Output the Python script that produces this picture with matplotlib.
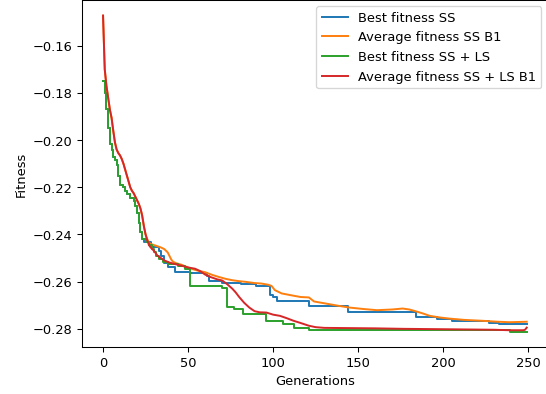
import matplotlib
matplotlib.use("Agg")
import matplotlib.pyplot as plt

# Best fitness SS + LS (step changes: generation, value)
gen_best_ls = [0, 1, 2, 3, 4, 5, 6, 7, 8, 9, 10, 12, 13, 14, 16, 18, 19, 20, 21, 22,
               23, 25, 27, 29, 30, 31, 33, 35, 38, 44, 48, 51, 70, 73, 77, 82, 96,
               106, 112, 121, 239, 249]
best_ls = [-0.1750, -0.1800, -0.1870, -0.1950, -0.2015, -0.2040, -0.2070, -0.2085,
           -0.2105, -0.2150, -0.2190, -0.2200, -0.2215, -0.2230, -0.2245, -0.2260,
           -0.2280, -0.2310, -0.2350, -0.2390, -0.2420, -0.2430, -0.2445, -0.2460,
           -0.2475, -0.2490, -0.2505, -0.2515, -0.2525, -0.2535, -0.2548, -0.2618,
           -0.2628, -0.2707, -0.2717, -0.2738, -0.2766, -0.2778, -0.2797, -0.2806,
           -0.2812, -0.2812]

# Best fitness SS (step changes)
gen_best_ss = [0, 1, 2, 3, 4, 5, 6, 7, 8, 9, 10, 12, 13, 14, 16, 18, 19, 20, 21, 22,
               23, 24, 28, 33, 34, 36, 38, 42, 51, 61, 62, 70, 81, 90, 98, 100, 102,
               121, 144, 184, 196, 205, 227, 233, 249]
best_ss = [-0.1750, -0.1800, -0.1870, -0.1950, -0.2015, -0.2040, -0.2070, -0.2085,
           -0.2105, -0.2150, -0.2190, -0.2200, -0.2215, -0.2230, -0.2245, -0.2260,
           -0.2280, -0.2310, -0.2350, -0.2390, -0.2420, -0.2434, -0.2455, -0.2469,
           -0.2490, -0.2520, -0.2540, -0.2561, -0.2565, -0.2575, -0.2597, -0.2604,
           -0.2611, -0.2618, -0.2657, -0.2667, -0.2681, -0.2705, -0.2728, -0.2752,
           -0.2759, -0.2766, -0.2776, -0.2780, -0.2780]

# Average fitness SS + LS B1
gen_avg_ls = [0, 1, 2, 3, 4, 5, 6, 7, 8, 9, 10, 11, 12, 13, 14, 15, 16, 17, 18, 19,
              20, 21, 22, 23, 24, 25, 26, 27, 28, 30, 32, 34, 36, 39, 42, 46, 50, 54,
              57, 60, 63, 67, 70, 73, 76, 78, 80, 83, 86, 89, 92, 96, 100, 104, 108,
              112, 116, 121, 125, 130, 145, 160, 176, 204, 230, 239, 247, 248, 249]
avg_ls = [-0.1472, -0.1700, -0.1770, -0.1820, -0.1870, -0.1905, -0.1960, -0.2010,
          -0.2040, -0.2055, -0.2065, -0.2080, -0.2100, -0.2125, -0.2150, -0.2175,
          -0.2200, -0.2215, -0.2225, -0.2240, -0.2255, -0.2270, -0.2290, -0.2320,
          -0.2365, -0.2400, -0.2425, -0.2445, -0.2455, -0.2470, -0.2490, -0.2500,
          -0.2510, -0.2519, -0.2525, -0.2532, -0.2540, -0.2545, -0.2555, -0.2570,
          -0.2580, -0.2590, -0.2595, -0.2611, -0.2630, -0.2646, -0.2665, -0.2690,
          -0.2710, -0.2725, -0.2730, -0.2731, -0.2740, -0.2745, -0.2755, -0.2766,
          -0.2775, -0.2787, -0.2793, -0.2796, -0.2797, -0.2798, -0.2800, -0.2802,
          -0.2804, -0.2806, -0.2806, -0.2804, -0.2795]

# Average fitness SS B1
gen_avg_ss = [0, 1, 2, 3, 4, 5, 6, 7, 8, 9, 10, 11, 12, 13, 14, 15, 16, 17, 18, 19,
              20, 21, 22, 23, 24, 25, 26, 27, 28, 30, 32, 34, 36, 38, 40, 41, 43, 46,
              50, 53, 56, 60, 64, 68, 72, 76, 80, 84, 89, 93, 97, 99, 101, 105, 110,
              116, 121, 124, 131, 138, 145, 153, 161, 170, 176, 180, 183, 188, 192,
              198, 204, 212, 223, 232, 239, 244, 249]
avg_ss = [-0.1472, -0.1700, -0.1770, -0.1820, -0.1870, -0.1905, -0.1960, -0.2010,
          -0.2040, -0.2055, -0.2065, -0.2080, -0.2100, -0.2125, -0.2150, -0.2175,
          -0.2200, -0.2215, -0.2225, -0.2240, -0.2255, -0.2270, -0.2290, -0.2320,
          -0.2365, -0.2400, -0.2420, -0.2435, -0.2440, -0.2445, -0.2450, -0.2455,
          -0.2462, -0.2476, -0.2505, -0.2515, -0.2522, -0.2528, -0.2540, -0.2548,
          -0.2554, -0.2560, -0.2571, -0.2580, -0.2588, -0.2594, -0.2598, -0.2601,
          -0.2606, -0.2608, -0.2613, -0.2618, -0.2636, -0.2650, -0.2657, -0.2665,
          -0.2667, -0.2684, -0.2693, -0.2702, -0.2710, -0.2716, -0.2721, -0.2718,
          -0.2714, -0.2718, -0.2724, -0.2735, -0.2745, -0.2752, -0.2757, -0.2762,
          -0.2766, -0.2770, -0.2772, -0.2771, -0.2770]

# the reference looks like a default figure shown at ~94 dpi, then cropped
DPI = 93.9
fig = plt.figure(figsize=(546.4 / DPI, 394.4 / DPI), dpi=DPI)
ax = fig.add_axes([81.8 / 546, 46.5 / 394, 465.7 / 546, 347.3 / 394])

ax.plot(gen_best_ss, best_ss, drawstyle='steps-post', label='Best fitness SS')
ax.plot(gen_avg_ss, avg_ss, label='Average fitness SS B1')
ax.plot(gen_best_ls, best_ls, drawstyle='steps-post', label='Best fitness SS + LS')
ax.plot(gen_avg_ls, avg_ls, label='Average fitness SS + LS B1')

ax.set_xlabel('Generations')
ax.set_ylabel('Fitness')
ax.legend(loc='upper right')

plt.savefig('out.png', dpi=DPI)
